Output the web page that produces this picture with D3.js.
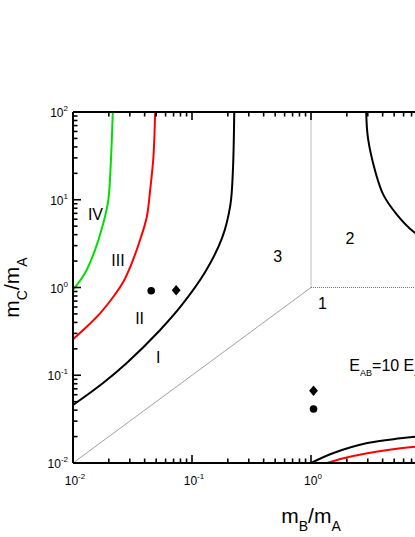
<!DOCTYPE html>
<html>
<head>
<meta charset="utf-8">
<script src="https://cdn.jsdelivr.net/npm/d3@7"></script>
<style>
  body { margin: 0; background: #fff; overflow: hidden; }
  text { font-family: "Liberation Sans", Arial, sans-serif; fill: #000; }
</style>
</head>
<body>
<div class="chart"></div>
<script>
// boundary curves
var greenX = [0.01, 0.01262, 0.01531, 0.0180, 0.0198, 0.0207, 0.0216];
var greenY = [0.937, 1.46, 2.67, 5.43, 9.93, 23.6, 100];

var redX = [0.01, 0.01304, 0.01688, 0.02184, 0.0265, 0.0312, 0.0366, 0.0417, 0.0445, 0.0474, 0.049];
var redY = [0.257, 0.357, 0.508, 0.785, 1.164, 1.90, 3.48, 6.36, 12.9, 30.7, 100];

var blackX = [0.01, 0.0179, 0.0283, 0.054, 0.0822, 0.129, 0.179, 0.210, 0.2204, 0.2265];
var blackY = [0.0458, 0.0817, 0.138, 0.328, 0.632, 1.50, 3.67, 8.7, 20.7, 100];

var topRightX = [2.91, 3.01, 3.48, 4.07, 5.31, 7.28, 10];
var topRightY = [100, 50.6, 20.7, 11.3, 6.70, 4.32, 3.3];

var bottomBlackX = [1.0, 1.545, 2.97, 5.66, 7.56, 10];
var bottomBlackY = [0.01, 0.013, 0.0169, 0.0191, 0.01995, 0.0206];

var bottomRedX = [1.367, 1.875, 2.97, 5.66, 7.56, 10];
var bottomRedY = [0.01, 0.0113, 0.0129, 0.01472, 0.01535, 0.0158];

// region borders 1/2/3
var diagX = [0.01, 1];
var diagY = [0.01, 1];
var vertX = [1, 1];
var vertY = [1, 100];
var horizX = [1, 100];
var horizY = [1, 1];

// symbols
var circleX = [0.0454, 1.05];
var circleY = [0.92, 0.0412];
var diamondX = [0.0736, 1.05];
var diamondY = [0.93, 0.0667];

var decades = [-2, -1, 0, 1, 2];

var svgWidth = 415;
var svgHeight = 537;
var margin = { top: 112, left: 73 };
var width = 476;
var height = 351;

var svg = d3.select(".chart")
    .append("svg")
    .attr("width", svgWidth)
    .attr("height", svgHeight);

var chart = svg.append("g")
    .attr("transform", "translate(" + margin.left + "," + margin.top + ")");

var x = d3.scaleLog().domain([0.01, 100]).range([0, width]);
var y = d3.scaleLog().domain([0.01, 100]).range([height, 0]);

function zip(xs, ys) {
    return xs.map(function(d, i) { return [d, ys[i]]; });
}

var line = d3.line()
    .x(function(d) { return x(d[0]); })
    .y(function(d) { return y(d[1]); });

var smooth = d3.line()
    .x(function(d) { return x(d[0]); })
    .y(function(d) { return y(d[1]); })
    .curve(d3.curveCatmullRom.alpha(0.5));

// thin grey region borders
chart.append("path")
    .attr("d", line(zip(diagX, diagY)))
    .attr("fill", "none")
    .attr("stroke", "#888")
    .attr("stroke-width", 0.8);

chart.append("path")
    .attr("d", line(zip(vertX, vertY)))
    .attr("fill", "none")
    .attr("stroke", "#777")
    .attr("stroke-width", 1)
    .attr("stroke-dasharray", "1,1");

chart.append("path")
    .attr("d", line(zip(horizX, horizY)))
    .attr("fill", "none")
    .attr("stroke", "#777")
    .attr("stroke-width", 1)
    .attr("stroke-dasharray", "1,1");

var curves = [
    { xs: greenX, ys: greenY, color: "#00e000" },
    { xs: redX, ys: redY, color: "#ff0000" },
    { xs: blackX, ys: blackY, color: "#000" },
    { xs: topRightX, ys: topRightY, color: "#000" },
    { xs: bottomBlackX, ys: bottomBlackY, color: "#000" },
    { xs: bottomRedX, ys: bottomRedY, color: "#ff0000" }
];

chart.selectAll("path.curve")
    .data(curves)
    .enter().append("path")
    .attr("class", "curve")
    .attr("d", function(c) { return smooth(zip(c.xs, c.ys)); })
    .attr("fill", "none")
    .attr("stroke", function(c) { return c.color; })
    .attr("stroke-width", 2);

chart.selectAll("circle.pt")
    .data(zip(circleX, circleY))
    .enter().append("circle")
    .attr("class", "pt")
    .attr("cx", function(d) { return x(d[0]); })
    .attr("cy", function(d) { return y(d[1]); })
    .attr("r", 3.8)
    .attr("fill", "#000");

chart.selectAll("path.dia")
    .data(zip(diamondX, diamondY))
    .enter().append("path")
    .attr("class", "dia")
    .attr("d", "M0,-5.2L4.4,0L0,5.2L-4.4,0Z")
    .attr("transform", function(d) { return "translate(" + x(d[0]) + "," + y(d[1]) + ")"; })
    .attr("fill", "#000");

// axes: frame lines plus inward log ticks
var minorTicks = [];
decades.slice(0, -1).forEach(function(e) {
    for (var k = 2; k <= 9; k++) minorTicks.push(k * Math.pow(10, e));
});
var majorTicks = decades.map(function(e) { return Math.pow(10, e); });

var axisG = chart.append("g").attr("class", "axes");

axisG.append("line").attr("x1", 0).attr("x2", width).attr("y1", height).attr("y2", height);
axisG.append("line").attr("x1", 0).attr("x2", width).attr("y1", 0).attr("y2", 0);
axisG.append("line").attr("x1", 0).attr("x2", 0).attr("y1", 0).attr("y2", height);
axisG.append("line").attr("x1", width).attr("x2", width).attr("y1", 0).attr("y2", height);

function ticks(values, len) {
    values.forEach(function(v) {
        // bottom and top
        axisG.append("line").attr("x1", x(v)).attr("x2", x(v)).attr("y1", height).attr("y2", height - len);
        axisG.append("line").attr("x1", x(v)).attr("x2", x(v)).attr("y1", 0).attr("y2", len);
        // left
        axisG.append("line").attr("x1", 0).attr("x2", len).attr("y1", y(v)).attr("y2", y(v));
    });
}
ticks(minorTicks, 4.5);
ticks(majorTicks, 8);

axisG.selectAll("line")
    .attr("stroke", "#000")
    .attr("stroke-width", 1.6);
axisG.selectAll("line").filter(function(d, i) { return i < 4; })
    .attr("stroke-width", 2);

// tick labels 10^n (x labels only where they fall inside the picture)
majorTicks.forEach(function(v, i) {
    if (margin.left + x(v) + 14 < svgWidth) {
        var t = chart.append("text")
            .attr("x", x(v) + 2)
            .attr("y", height + 22)
            .attr("text-anchor", "middle")
            .style("font-size", "12px");
        t.append("tspan").text("10");
        t.append("tspan").attr("dy", -6).style("font-size", "8px").text(decades[i]);
    }

    var l = chart.append("text")
        .attr("x", -5)
        .attr("y", y(v) + 5)
        .attr("text-anchor", "end")
        .style("font-size", "12px");
    l.append("tspan").text("10");
    l.append("tspan").attr("dy", -6).style("font-size", "8px").text(decades[i]);
});

// region labels
var regionLabels = [
    { t: "IV", x: 0.01545, y: 5.88 },
    { t: "III", x: 0.0239, y: 1.76 },
    { t: "II", x: 0.0363, y: 0.384 },
    { t: "I", x: 0.052, y: 0.139 },
    { t: "3", x: 0.526, y: 1.95 },
    { t: "2", x: 2.12, y: 3.13 },
    { t: "1", x: 1.25, y: 0.569 }
];

chart.selectAll("text.region")
    .data(regionLabels)
    .enter().append("text")
    .attr("class", "region")
    .attr("x", function(d) { return x(d.x); })
    .attr("y", function(d) { return y(d.y); })
    .attr("text-anchor", "middle")
    .attr("fill", "#000")
    .style("font-size", "16px")
    .text(function(d) { return d.t; });

var eText = chart.append("text")
    .attr("x", x(2.10))
    .attr("y", y(0.1127))
    .attr("fill", "#000")
    .style("font-size", "16px");
eText.append("tspan").text("E");
eText.append("tspan").attr("dy", 5).style("font-size", "9px").text("AB");
eText.append("tspan").attr("dy", -5).text("=10 E");
eText.append("tspan").attr("dy", 5).style("font-size", "9px").text("AC");

// axis titles
var xTitle = svg.append("text")
    .attr("x", margin.left + width / 2)
    .attr("y", 523)
    .attr("text-anchor", "middle")
    .style("font-size", "21px");
xTitle.append("tspan").text("m");
xTitle.append("tspan").attr("dy", 8).style("font-size", "14px").text("B");
xTitle.append("tspan").attr("dy", -8).text("/m");
xTitle.append("tspan").attr("dy", 8).style("font-size", "14px").text("A");

var yTitle = svg.append("text")
    .attr("transform", "translate(19," + (margin.top + height / 2) + ") rotate(-90)")
    .attr("text-anchor", "middle")
    .style("font-size", "21px");
yTitle.append("tspan").text("m");
yTitle.append("tspan").attr("dy", 8).style("font-size", "14px").text("C");
yTitle.append("tspan").attr("dy", -8).text("/m");
yTitle.append("tspan").attr("dy", 8).style("font-size", "14px").text("A");
</script>
</body>
</html>
